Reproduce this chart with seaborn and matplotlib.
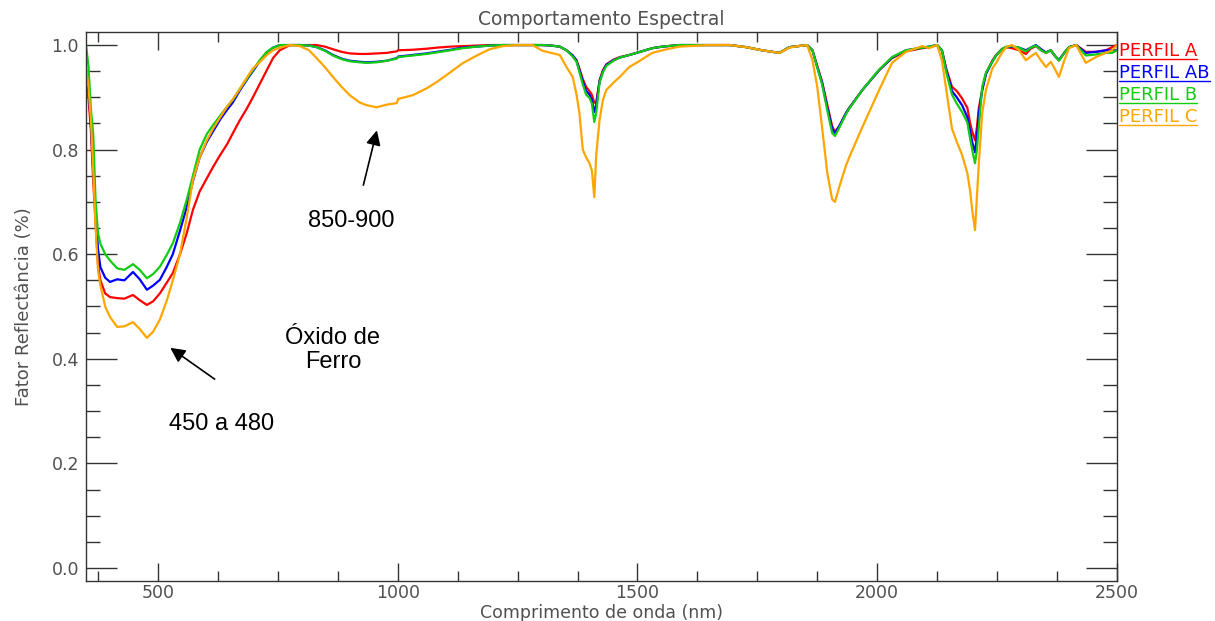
import numpy as np
import pandas as pd
import matplotlib
matplotlib.use("Agg")
import matplotlib.pyplot as plt
import seaborn as sns
from matplotlib.lines import Line2D
from matplotlib.ticker import MultipleLocator
from matplotlib.transforms import IdentityTransform

wavelength = (
    [350, 355, 360, 365, 370, 375, 380, 390, 400]
    + [415, 430, 448, 462, 477, 490, 504, 518, 531, 546, 560]
    + [573, 587, 602, 615, 630, 644, 656, 670, 685, 698, 713, 727, 740, 754, 775]
    + [796, 815, 831, 848, 865, 883, 900, 921, 935, 956, 977, 998, 1001]
    + [1031, 1060, 1081, 1110, 1135, 1165, 1192, 1220, 1250, 1281, 1302, 1320, 1338]
    + [1352, 1365, 1373, 1379, 1386, 1393, 1400, 1405, 1410, 1414, 1421, 1428, 1435, 1450, 1463, 1483, 1498]
    + [1531, 1552, 1587, 1650, 1692, 1727, 1760, 1796, 1817, 1835, 1854]
    + [1865, 1875, 1885, 1896, 1906, 1912, 1921, 1935, 1942, 1969, 2004, 2031, 2060, 2094, 2108, 2125]
    + [2135, 2144, 2156, 2166, 2177, 2188, 2194, 2198, 2204, 2208, 2212, 2219, 2227, 2240, 2248, 2260]
    + [2269, 2281, 2296, 2310, 2320, 2331, 2342, 2352, 2362, 2370, 2379, 2390, 2400, 2415, 2435, 2456, 2477, 2490, 2500]
)

perfil_a = (
    [0.93, 0.90, 0.84, 0.74, 0.66, 0.58, 0.55, 0.525, 0.518]
    + [0.516, 0.515, 0.522, 0.512, 0.503, 0.510, 0.525, 0.545, 0.564, 0.60, 0.64]
    + [0.685, 0.72, 0.745, 0.767, 0.79, 0.81, 0.831, 0.855, 0.878, 0.90, 0.927, 0.952, 0.975, 0.99, 1.0]
    + [1.0, 1.0, 1.0, 0.997, 0.992, 0.987, 0.984, 0.983, 0.983, 0.984, 0.985, 0.988, 0.99]
    + [0.991, 0.993, 0.995, 0.997, 0.998, 0.999, 1.0, 1.0, 1.0, 1.0, 1.0, 0.999, 0.997]
    + [0.99, 0.98, 0.971, 0.955, 0.935, 0.92, 0.912, 0.905, 0.89, 0.89, 0.933, 0.952, 0.963, 0.972, 0.977, 0.981, 0.985]
    + [0.994, 0.997, 1.0, 1.0, 1.0, 0.996, 0.99, 0.985, 0.996, 0.998, 1.0]
    + [0.99, 0.96, 0.93, 0.885, 0.845, 0.834, 0.845, 0.87, 0.88, 0.914, 0.952, 0.975, 0.988, 0.994, 0.996, 1.0]
    + [0.99, 0.955, 0.92, 0.912, 0.898, 0.88, 0.85, 0.835, 0.818, 0.843, 0.88, 0.914, 0.946, 0.97, 0.981, 0.992]
    + [0.996, 0.994, 0.99, 0.983, 0.993, 0.998, 0.99, 0.985, 0.99, 0.98, 0.971, 0.985, 0.996, 1.0, 0.987, 0.987, 0.99, 0.996, 1.0]
)

perfil_ab = (
    [0.91, 0.92, 0.85, 0.76, 0.68, 0.61, 0.575, 0.555, 0.547]
    + [0.552, 0.550, 0.566, 0.552, 0.532, 0.540, 0.551, 0.575, 0.60, 0.645, 0.69]
    + [0.74, 0.785, 0.815, 0.835, 0.858, 0.876, 0.89, 0.912, 0.933, 0.95, 0.97, 0.986, 0.995, 1.0, 1.0]
    + [1.0, 0.999, 0.996, 0.99, 0.981, 0.974, 0.97, 0.968, 0.967, 0.968, 0.97, 0.975, 0.978]
    + [0.981, 0.984, 0.987, 0.991, 0.995, 0.997, 0.999, 1.0, 1.0, 1.0, 1.0, 0.999, 0.997]
    + [0.99, 0.98, 0.97, 0.952, 0.93, 0.913, 0.905, 0.895, 0.872, 0.885, 0.93, 0.95, 0.962, 0.971, 0.976, 0.981, 0.985]
    + [0.994, 0.997, 1.0, 1.0, 1.0, 0.996, 0.99, 0.985, 0.996, 0.998, 1.0]
    + [0.99, 0.958, 0.928, 0.88, 0.84, 0.832, 0.845, 0.87, 0.88, 0.914, 0.952, 0.976, 0.99, 0.995, 0.997, 1.0]
    + [0.99, 0.952, 0.912, 0.90, 0.885, 0.862, 0.835, 0.815, 0.795, 0.825, 0.87, 0.914, 0.945, 0.968, 0.98, 0.992]
    + [0.996, 0.997, 0.995, 0.99, 0.995, 1.0, 0.992, 0.986, 0.99, 0.98, 0.971, 0.985, 0.996, 1.0, 0.985, 0.987, 0.99, 0.99, 0.99]
)

perfil_b = (
    [1.0, 0.96, 0.88, 0.83, 0.70, 0.64, 0.62, 0.60, 0.588]
    + [0.573, 0.570, 0.581, 0.570, 0.554, 0.562, 0.576, 0.598, 0.621, 0.66, 0.704]
    + [0.75, 0.80, 0.83, 0.847, 0.865, 0.882, 0.895, 0.915, 0.935, 0.952, 0.972, 0.987, 0.995, 1.0, 1.0]
    + [1.0, 0.999, 0.996, 0.989, 0.98, 0.973, 0.969, 0.967, 0.966, 0.967, 0.97, 0.974, 0.977]
    + [0.98, 0.983, 0.986, 0.99, 0.994, 0.997, 0.999, 1.0, 1.0, 1.0, 1.0, 0.999, 0.997]
    + [0.99, 0.978, 0.968, 0.948, 0.925, 0.905, 0.899, 0.888, 0.853, 0.87, 0.928, 0.948, 0.96, 0.97, 0.976, 0.981, 0.985]
    + [0.994, 0.997, 1.0, 1.0, 1.0, 0.996, 0.99, 0.985, 0.996, 0.998, 1.0]
    + [0.99, 0.957, 0.925, 0.875, 0.832, 0.826, 0.842, 0.868, 0.879, 0.914, 0.953, 0.977, 0.99, 0.995, 0.997, 1.0]
    + [0.99, 0.948, 0.905, 0.888, 0.872, 0.852, 0.82, 0.80, 0.774, 0.80, 0.843, 0.92, 0.948, 0.968, 0.98, 0.992]
    + [0.997, 0.998, 0.995, 0.988, 0.995, 0.999, 0.99, 0.985, 0.99, 0.98, 0.97, 0.985, 0.996, 1.0, 0.98, 0.982, 0.985, 0.985, 0.99]
)

perfil_c = (
    [0.96, 0.92, 0.86, 0.76, 0.65, 0.57, 0.54, 0.50, 0.48]
    + [0.461, 0.462, 0.47, 0.457, 0.44, 0.452, 0.475, 0.51, 0.55, 0.60, 0.67]
    + [0.742, 0.785, 0.818, 0.84, 0.862, 0.882, 0.896, 0.915, 0.937, 0.955, 0.968, 0.981, 0.99, 0.995, 1.0]
    + [0.998, 0.99, 0.975, 0.958, 0.939, 0.92, 0.904, 0.89, 0.885, 0.881, 0.886, 0.889, 0.897]
    + [0.904, 0.917, 0.929, 0.948, 0.965, 0.98, 0.992, 0.998, 1.0, 1.0, 0.989, 0.985, 0.981]
    + [0.958, 0.939, 0.905, 0.87, 0.80, 0.785, 0.774, 0.76, 0.709, 0.79, 0.857, 0.895, 0.914, 0.928, 0.939, 0.958, 0.966]
    + [0.985, 0.99, 0.997, 1.0, 1.0, 0.996, 0.99, 0.985, 0.995, 0.998, 1.0]
    + [0.971, 0.92, 0.843, 0.755, 0.705, 0.70, 0.729, 0.77, 0.786, 0.843, 0.914, 0.966, 0.987, 0.998, 0.994, 1.0]
    + [0.97, 0.915, 0.84, 0.815, 0.79, 0.755, 0.72, 0.685, 0.646, 0.709, 0.774, 0.87, 0.915, 0.955, 0.966, 0.985]
    + [0.996, 1.0, 0.99, 0.971, 0.978, 0.985, 0.97, 0.958, 0.968, 0.955, 0.939, 0.97, 0.994, 1.0, 0.966, 0.977, 0.985, 0.99, 1.0]
)

perfis = ["PERFIL A", "PERFIL AB", "PERFIL B", "PERFIL C"]
cores = ["#ff0000", "#0000ff", "#11cc11", "#ffa500"]

sns.set_style("ticks")
plt.rcParams["font.family"] = ["DejaVu Sans"]

frames = []
for nome, vals in zip(perfis, [perfil_a, perfil_ab, perfil_b, perfil_c]):
    frames.append(pd.DataFrame({"wl": wavelength, "refl": vals, "perfil": nome}))
df = pd.concat(frames, ignore_index=True)

fig = plt.figure(figsize=(12.15, 6.21), dpi=100)
ax = fig.add_axes([0.0708, 0.0644, 0.8485, 0.8841])

sns.lineplot(data=df, x="wl", y="refl", hue="perfil", hue_order=perfis,
             palette=dict(zip(perfis, cores)), linewidth=1.6, legend=False,
             sort=True, ax=ax)

txt_gray = "#505050"
ax.set_xlim(350, 2500)
ax.set_ylim(-0.025, 1.025)
ax.xaxis.set_major_locator(MultipleLocator(500))
ax.xaxis.set_minor_locator(MultipleLocator(125))
ax.yaxis.set_major_locator(MultipleLocator(0.2))
ax.yaxis.set_minor_locator(MultipleLocator(0.05))
ax.yaxis.set_major_formatter(matplotlib.ticker.FormatStrFormatter("%.1f"))
ax.tick_params(which="both", direction="in", top=True, right=True,
               color="#333333", labelcolor=txt_gray, labelsize=12.5, width=1)
ax.tick_params(axis="x", which="major", length=13, pad=2)
ax.tick_params(axis="x", which="minor", length=7)
ax.tick_params(axis="y", which="major", length=22, pad=5)
ax.tick_params(axis="y", which="minor", length=10)
for sp in ax.spines.values():
    sp.set_color("#333333")
    sp.set_linewidth(1)

ax.set_xlabel("Comprimento de onda (nm)", fontsize=12.5, color=txt_gray)
ax.set_ylabel("Fator Reflectância (%)", fontsize=13, color=txt_gray)
ax.xaxis.set_label_coords(0.5, -0.042)
ax.yaxis.set_label_coords(-0.051, 0.5)
ax.set_title("Comportamento Espectral", fontsize=13.5, color=txt_gray, pad=5)

# annotations
ann_font = dict(family=["Liberation Sans", "DejaVu Sans"], fontsize=17, color="black")
arrow = dict(arrowstyle="-|>", color="black", lw=1.2, mutation_scale=22)
ax.annotate("", xy=(958, 0.842), xytext=(927, 0.727), arrowprops=arrow)
ax.text(904, 0.663, "850-900", ha="center", va="center", **ann_font)
ax.annotate("", xy=(521, 0.424), xytext=(623, 0.358), arrowprops=arrow)
ax.text(633, 0.275, "450 a 480", ha="center", va="center", **ann_font)
ax.text(865, 0.417, "Óxido de\nFerro", ha="center", va="center",
        linespacing=1.15, **ann_font)

# legend as underlined coloured labels in the right margin
fig.canvas.draw()
renderer = fig.canvas.get_renderer()
H = fig.get_figheight() * fig.dpi
W = fig.get_figwidth() * fig.dpi
for i, (nome, cor) in enumerate(zip(perfis, cores)):
    base = 56 + 22 * i
    t = fig.text(1119 / W, 1 - base / H, nome, color=cor, fontsize=13,
                 ha="left", va="baseline")
    bb = t.get_window_extent(renderer)
    yl = H - base - 3
    fig.add_artist(Line2D([bb.x0, bb.x1], [yl, yl], color=cor, lw=1,
                          transform=IdentityTransform()))

fig.savefig("out.png", dpi=100)
